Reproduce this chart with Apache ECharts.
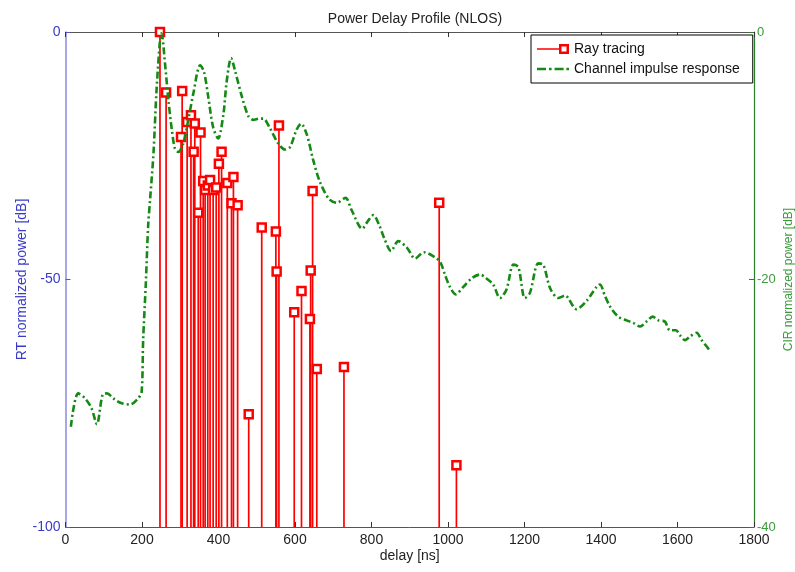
<!DOCTYPE html>
<html>
<head>
<meta charset="utf-8">
<script src="https://cdn.jsdelivr.net/npm/echarts@6/dist/echarts.min.js"></script>
<style>
html,body{margin:0;padding:0;background:#fff;}
#chart{width:795px;height:572px;}
</style>
</head>
<body>
<div id="chart"></div>
<script>
// Ray tracing stems: delay [ns] and normalized power [dB]
var rtDelay = [247,263,302,305,318,328,335,338,347,353,360,365,372,378,386,394,401,408,423,434,439,450,479,513,550,552,558,598,617,639,641,646,657,728,977,1022];
var rtPower = [0,-12.2,-21.2,-11.9,-18.2,-16.8,-24.2,-18.5,-36.5,-20.3,-30.1,-31.9,-31.0,-29.9,-31.9,-31.4,-26.6,-24.2,-30.5,-34.6,-29.3,-35.0,-77.2,-39.5,-40.3,-48.4,-18.9,-56.6,-52.3,-58.0,-48.2,-32.1,-68.1,-67.7,-34.5,-87.5];

// Channel impulse response: delay [ns] and normalized power [dB]
var cirDelay = [14,33,51,68,82,97,108,129,147,169,190,199,203,210,216,221,230,238,247,251,260,269,278,286,295,308,321,334,352,362,373,386,399,413,421,433,443,461,478,491,507,517,535,556,574,587,604,616,631,648,665,689,709,732,748,776,790,805,820,835,851,870,892,914,937,966,980,992,1005,1020,1040,1062,1084,1100,1118,1136,1153,1171,1184,1201,1214,1236,1249,1267,1288,1306,1336,1363,1397,1410,1424,1445,1467,1484,1502,1519,1535,1550,1567,1580,1596,1606,1620,1633,1650,1663,1676,1683];
var cirPower = [-31.9,-29.2,-29.6,-30.4,-31.7,-29.3,-29.2,-29.7,-30.0,-30.1,-29.6,-29.1,-24.9,-20.3,-15.7,-13.6,-9.8,-4.7,-0.7,-0.1,-2.5,-5.5,-7.9,-9.4,-9.7,-9.0,-7.1,-5.0,-2.7,-3.2,-5.2,-7.7,-8.6,-6.6,-4.1,-2.1,-3.1,-5.2,-6.8,-7.1,-7.0,-7.0,-7.8,-9.0,-9.5,-9.3,-7.9,-7.4,-8.3,-10.4,-12.1,-13.5,-13.8,-13.4,-14.4,-15.9,-15.3,-14.8,-15.6,-16.8,-17.7,-16.9,-17.4,-18.3,-17.8,-18.2,-18.6,-19.6,-20.6,-21.2,-20.6,-19.9,-19.6,-19.9,-20.4,-21.5,-20.8,-18.8,-19.0,-21.5,-21.1,-18.7,-18.8,-20.7,-21.5,-21.3,-22.4,-21.7,-20.4,-21.3,-22.2,-23.0,-23.3,-23.5,-23.8,-23.4,-23.0,-23.3,-23.4,-24.1,-24.1,-24.5,-24.9,-24.6,-24.3,-24.9,-25.4,-25.7];

var xTicks = {min: 0, max: 1800, interval: 200};
var rtTicks = {min: -100, max: 0, interval: 50};
var cirTicks = {min: -40, max: 0, interval: 20};

var rtData = rtDelay.map(function (d, i) { return [d, rtPower[i]]; });
var cirData = cirDelay.map(function (d, i) { return [d, cirPower[i]]; });

var FONT = '"Liberation Sans", Arial, sans-serif';
var GREEN = '#148a14';
var chart = echarts.init(document.getElementById('chart'), null, {renderer: 'canvas'});

var stemIcon = 'path://M0,4.2 L22,4.2 L22,5.8 L0,5.8 Z M22,0 L32,0 L32,10 L22,10 Z M24.5,2.5 L24.5,7.5 L29.5,7.5 L29.5,2.5 Z';
var dashDotIcon = 'path://M0,0 h9 v2.6 h-9 z M12,0 h2.6 v2.6 h-2.6 z M17.6,0 h9 v2.6 h-9 z M29.4,0 h2.6 v2.6 h-2.6 z';

function plainNum(v) { return String(v); }

chart.setOption({
  animation: false,
  backgroundColor: '#fff',
  textStyle: {fontFamily: FONT},
  title: {
    text: 'Power Delay Profile (NLOS)',
    left: 410, top: 7, textAlign: 'center',
    textStyle: {fontSize: 14, fontWeight: 'normal', color: '#222', fontFamily: FONT}
  },
  grid: {left: 65.5, right: 41, top: 32, bottom: 45, containLabel: false, outerBoundsMode: 'none'},
  legend: {
    orient: 'vertical',
    left: 531, top: 35,
    backgroundColor: '#fff',
    borderColor: '#000', borderWidth: 1,
    padding: [6, 13, 6, 6],
    itemGap: 4,
    itemWidth: 32, itemHeight: 10,
    textStyle: {fontSize: 14, color: '#111', fontFamily: FONT, lineHeight: 16},
    data: [
      {name: 'Ray tracing', icon: stemIcon, itemStyle: {color: '#ff0000', borderWidth: 0}},
      {name: 'Channel impulse response', icon: dashDotIcon, itemStyle: {color: GREEN, borderWidth: 0}}
    ]
  },
  xAxis: [{
    type: 'value', position: 'bottom',
    min: xTicks.min, max: xTicks.max, interval: xTicks.interval,
    name: 'delay [ns]', nameLocation: 'middle', nameGap: 22, nameMoveOverlap: false,
    nameTextStyle: {fontSize: 14, color: '#222'},
    axisLine: {onZero: false, lineStyle: {color: '#555', width: 1}},
    axisTick: {inside: true, length: 5, lineStyle: {color: '#333'}},
    axisLabel: {fontSize: 14, color: '#222', margin: 6, formatter: plainNum},
    splitLine: {show: false}
  }, {
    type: 'value', position: 'top',
    min: xTicks.min, max: xTicks.max, interval: xTicks.interval,
    axisLine: {onZero: false, lineStyle: {color: '#555', width: 1}},
    axisTick: {inside: true, length: 5, lineStyle: {color: '#333'}},
    axisLabel: {show: false},
    splitLine: {show: false}
  }],
  yAxis: [{
    type: 'value', position: 'left',
    min: rtTicks.min, max: rtTicks.max, interval: rtTicks.interval,
    name: 'RT normalized power [dB]', nameLocation: 'middle', nameRotate: 90, nameGap: 36, nameMoveOverlap: false,
    nameTextStyle: {fontSize: 14, color: '#3a3ac8'},
    axisLine: {onZero: false, lineStyle: {color: '#8a8ade', width: 1.5}},
    axisTick: {inside: true, length: 5, lineStyle: {color: '#5555cc'}},
    axisLabel: {fontSize: 14, color: '#3a3ac8', margin: 5, formatter: plainNum},
    splitLine: {show: false}
  }, {
    type: 'value', position: 'right',
    min: cirTicks.min, max: cirTicks.max, interval: cirTicks.interval,
    name: 'CIR normalized power [dB]', nameLocation: 'middle', nameRotate: 90, nameGap: 29, nameMoveOverlap: false,
    nameTextStyle: {fontSize: 12, color: '#3a9a3a'},
    axisLine: {onZero: false, lineStyle: {color: '#2a7f2a', width: 1.2}},
    axisTick: {inside: true, length: 5, lineStyle: {color: '#2a7f2a'}},
    axisLabel: {fontSize: 13, color: '#3a9a3a', margin: 3, formatter: plainNum},
    splitLine: {show: false}
  }],
  series: [{
    name: 'stems',
    type: 'custom',
    xAxisIndex: 0, yAxisIndex: 0,
    z: 2,
    data: rtData,
    encode: {x: 0, y: 1},
    renderItem: function (params, api) {
      var x = api.value(0), y = api.value(1);
      var p0 = api.coord([x, rtTicks.min]);
      var p1 = api.coord([x, y]);
      return {
        type: 'line',
        shape: {x1: p0[0], y1: p0[1], x2: p1[0], y2: p1[1]},
        style: {stroke: '#ff0000', lineWidth: 1.7}
      };
    }
  }, {
    name: 'Ray tracing',
    type: 'scatter',
    xAxisIndex: 0, yAxisIndex: 0,
    z: 3,
    symbol: 'rect', symbolSize: 8,
    itemStyle: {color: '#ffffff', borderColor: '#ff0000', borderWidth: 2.5, opacity: 1},
    data: rtData
  }, {
    name: 'Channel impulse response',
    type: 'line',
    xAxisIndex: 0, yAxisIndex: 1,
    z: 4,
    smooth: 0.3,
    showSymbol: false, symbol: 'none',
    lineStyle: {color: GREEN, width: 2.6, type: [7, 3, 2, 3], cap: 'butt'},
    itemStyle: {color: GREEN},
    data: cirData
  }]
});
</script>
</body>
</html>
